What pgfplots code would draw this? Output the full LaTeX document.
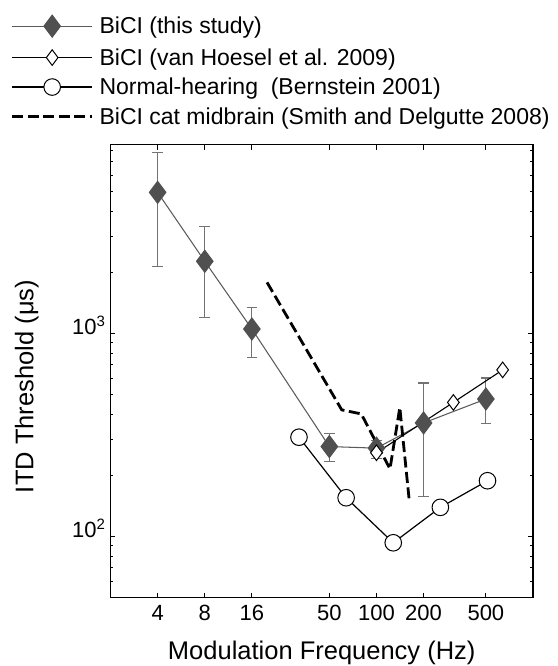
\documentclass[border=0pt]{standalone}
\usepackage{pgfplots}
\pgfplotsset{compat=1.18}
\usepackage{fontspec}
\setmainfont{Liberation Sans}

\definecolor{studyfill}{RGB}{80,80,80}
\definecolor{studyline}{RGB}{90,90,90}
\definecolor{errgray}{RGB}{115,115,115}

% ITD thresholds (microseconds) versus modulation frequency (Hz)
\pgfplotstableread{
f    t     ep    em
4    4950  2840  2810
8    2265  1085  1065
16   1051  292   289
50   277   44    43
100  272   24    29
200  362   208   205
500  475   128   115
}\thisstudy

\pgfplotstableread{
f    t
100  258
310  457
640  661
}\vanhoesel

\pgfplotstableread{
f    t
32   308
64   155
128  93
256  139
512  188
}\normalhearing

\pgfplotstableread{
f    t
20   1783
60   420
80   401
122  215
141  431
162  150
}\catmidbrain

\newcommand{\dec}[1]{10\raisebox{8pt}{\fontsize{15}{15}\selectfont #1}}

\begin{document}
\begin{tikzpicture}[x=1pt,y=1pt]
\useasboundingbox (0,0) rectangle (557,666);
\begin{axis}[
  at={(110.5pt,68.5pt)}, anchor=south west,
  scale only axis, width=422.5pt, height=452.8pt,
  xmode=log, ymode=log,
  xmin=2, xmax=1000, ymin=50, ymax=8500,
  xtick={4,8,16,50,100,200,500},
  xticklabels={4,8,16,50,100,200,500},
  xminorticks=false,
  ytick={100,1000},
  yticklabels={\dec{2},\dec{3}},
  minor ytick={60,70,80,90,200,300,400,500,600,700,800,900,2000,3000,4000,5000,6000,7000,8000},
  tick align=inside,
  major tick length=5pt, minor tick length=3pt,
  axis line style={line width=1.2pt},
  every tick/.style={black, line width=0.9pt},
  tick label style={font=\fontsize{22}{26}\selectfont},
  xticklabel style={yshift=-4pt},
  yticklabel style={yshift=8pt, xshift=-2pt},
  xlabel={Modulation Frequency (Hz)},
  ylabel={ITD Threshold (μs)},
  label style={font=\fontsize{25.5}{30}\selectfont},
  xlabel style={at={(axis description cs:0.5,-0.138)}, anchor=base},
  ylabel style={at={(axis description cs:-0.1827,0.466)}, anchor=base},
  legend style={
    at={(axis description cs:-0.236,1.286)}, anchor=north west,
    draw=none, fill=none, inner sep=0pt, outer sep=0pt,
    font=\fontsize{23}{27}\selectfont,
    row sep=11.3pt, column sep=6pt,
    nodes={inner sep=0pt},
  },
  legend cell align=left,
  legend image code/.code={\draw[#1,mark repeat=2,mark phase=2] plot coordinates {(0pt,0pt)(40pt,0pt)(80pt,0pt)};},
]

\addplot[studyline, line width=1.05pt, mark=diamond*, mark size=11pt,
  mark options={fill=studyfill, draw=studyfill, solid},
  error bars/.cd, y dir=both, y explicit,
  error bar style={errgray, line width=1.2pt, solid},
  error mark options={errgray, line width=1.2pt, mark size=5.3pt, rotate=90}]
  table[x=f, y=t, y error plus=ep, y error minus=em] {\thisstudy};
\addlegendentry{BiCI (this study)}

\addplot[black, line width=1.1pt, mark=diamond*, mark size=7.8pt,
  mark options={fill=white, draw=black, line width=1pt, solid}]
  table[x=f, y=t] {\vanhoesel};
\addlegendentry{BiCI (van Hoesel et al. 2009)}

\addplot[black, line width=1.2pt, mark=*, mark size=8.3pt,
  mark options={fill=white, draw=black, line width=1pt, solid}]
  table[x=f, y=t] {\normalhearing};
\addlegendentry{Normal-hearing\ \ (Bernstein 2001)}

\addplot[black, line width=2.8pt, dash pattern=on 11pt off 4.5pt]
  table[x=f, y=t] {\catmidbrain};
\addlegendentry{BiCI cat midbrain (Smith and Delgutte 2008)}

\end{axis}
\end{tikzpicture}
\end{document}
